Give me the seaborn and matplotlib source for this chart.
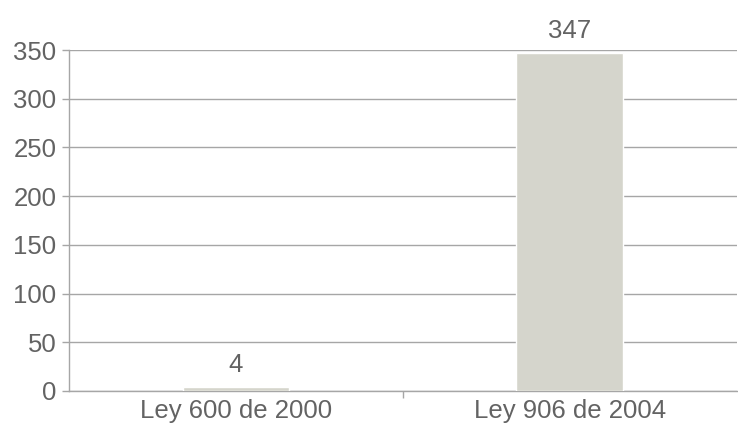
import numpy as np
import pandas as pd
import seaborn as sns
import matplotlib.pyplot as plt

leyes = ["Ley 600 de 2000", "Ley 906 de 2004"]
valores = [4, 347]

sns.set_style("white")
plt.rcParams['font.family'] = ['Liberation Sans', 'DejaVu Sans']

texto = '#636363'
linea = '#a6a6a6'

df = pd.DataFrame({"ley": leyes, "valor": valores})

fig = plt.figure(figsize=(7.38, 4.32), dpi=100)
ax = fig.add_axes([0.0935, 0.095, 0.905, 0.789])
sns.barplot(data=df, x="ley", y="valor", color='#d5d5cc', saturation=1,
            width=0.32, ax=ax, zorder=3)

ax.set_xlim(-0.5, 1.5)
ax.set_ylim(0, 350)
ax.set_yticks(np.arange(0, 351, 50))
ax.yaxis.grid(True, color=linea, linewidth=1)
ax.set_axisbelow(True)
ax.set_xlabel("")
ax.set_ylabel("")

for s in ['top', 'right']:
    ax.spines[s].set_visible(False)
for s in ['left', 'bottom']:
    ax.spines[s].set_color(linea)
    ax.spines[s].set_linewidth(1)

ax.tick_params(axis='y', colors=linea, labelcolor=texto, labelsize=18.5,
               length=5, width=1, left=True, pad=4)
ax.tick_params(axis='x', which='major', length=0, labelcolor=texto,
               labelsize=18.5, pad=6)
ax.set_xticks([0.5], minor=True)
ax.tick_params(axis='x', which='minor', colors=linea, length=5, width=1,
               bottom=True)

for i, v in enumerate(valores):
    ax.annotate(str(v), (i, v), xytext=(0, 7), textcoords='offset points',
                ha='center', va='bottom', fontsize=18.5, color=texto,
                annotation_clip=False)

fig.savefig("out.png", dpi=100)
